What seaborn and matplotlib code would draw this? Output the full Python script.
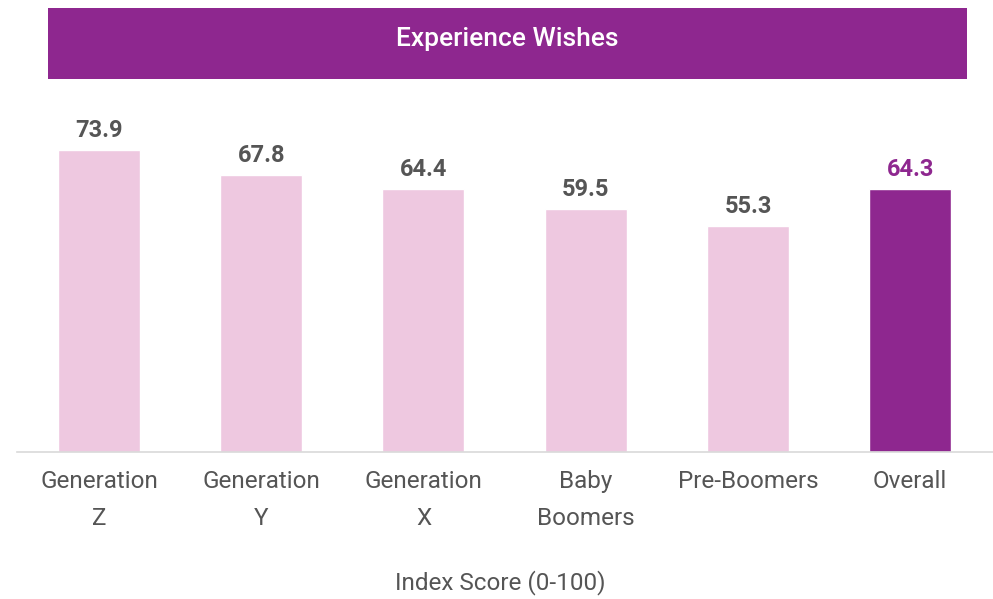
import matplotlib
matplotlib.use("Agg")
import matplotlib.pyplot as plt
import seaborn as sns
import pandas as pd

categories = ["Generation\nZ", "Generation\nY", "Generation\nX", "Baby\nBoomers", "Pre-Boomers", "Overall"]
scores = [73.9, 67.8, 64.4, 59.5, 55.3, 64.3]
is_overall = ["no", "no", "no", "no", "no", "yes"]

PINK = "#EEC8E0"
PURPLE = "#8E278F"
GRAY_TEXT = "#555555"

sns.set_theme(style="white")
plt.rcParams["font.family"] = ["Roboto", "DejaVu Sans"]

df = pd.DataFrame({"group": categories, "score": scores, "overall": is_overall})

fig = plt.figure(figsize=(9.93, 5.99), dpi=100)
ax = fig.add_axes([17 / 993, (599 - 452) / 599, 976 / 993, 372 / 599])

sns.barplot(data=df, x="group", y="score", hue="overall",
            palette={"no": PINK, "yes": PURPLE}, width=0.505,
            dodge=False, legend=False, saturation=1, ax=ax)

for i, v in enumerate(scores):
    color = PURPLE if is_overall[i] == "yes" else GRAY_TEXT
    ax.text(i, v + 2.0, f"{v:.1f}", ha="center", va="bottom",
            fontsize=17, fontweight="bold", color=color)

ax.set_xlim(-0.505, 5.51)
ax.set_ylim(0, 91)
ax.set_yticks([])
ax.set_ylabel("")
ax.set_xlabel("")
ax.tick_params(axis="x", length=0, labelsize=17.5, labelcolor=GRAY_TEXT, pad=13)
for lbl in ax.get_xticklabels():
    lbl.set_linespacing(1.75)
for s in ["top", "right", "left"]:
    ax.spines[s].set_visible(False)
ax.spines["bottom"].set_color("#D9D9D9")
ax.spines["bottom"].set_linewidth(1.2)

fig.text(500 / 993, 1 - 583 / 599, "Index Score (0-100)", ha="center", va="center",
         fontsize=17.5, color=GRAY_TEXT)

# title band
band = fig.add_axes([48 / 993, (599 - 79) / 599, 919 / 993, 71 / 599])
band.set_facecolor(PURPLE)
band.set_xticks([])
band.set_yticks([])
for s in band.spines.values():
    s.set_visible(False)
band.text(0.5, 0.57, "Experience Wishes", ha="center", va="center",
          color="white", fontsize=19, fontweight="medium", transform=band.transAxes)

fig.savefig("out.png", dpi=100)
